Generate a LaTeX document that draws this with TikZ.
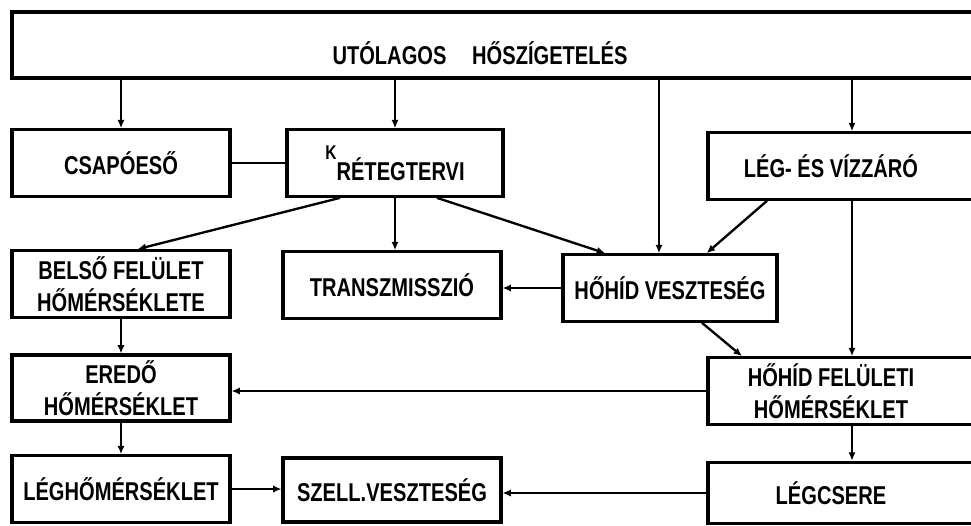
\documentclass[tikz,border=0pt]{standalone}
\usepackage{fontspec}
\setmainfont{Liberation Sans}[FakeStretch=0.78]
\usepackage{tikz}
\usetikzlibrary{arrows.meta,positioning}
\newcommand{\padr}{\hspace*{1.26cm}}

\begin{document}
\begin{tikzpicture}[x=0.03cm,y=-0.03cm,
    every node/.style={font=\fontsize{22}{27}\selectfont\bfseries,align=center},
    box/.style={draw,line width=2.6pt,minimum width=6.54cm,minimum height=2cm,inner sep=2pt},
    wide/.style={minimum width=8.64cm},
    arr/.style={-{Latex[length=0.25cm,width=0.22cm]},line width=2pt}]
        \clip (0,0) rectangle (971,525);
        \node[box,minimum width=29.52cm,minimum height=1.98cm,text height=1.14cm,text depth=0pt] (top) at (504,45) {UTÓLAGOS\quad HŐSZÍGETELÉS\hspace*{1.44cm}};
        \node[box] (csap) at (121,163) {CSAPÓESŐ};
        \node[box,minimum width=6.48cm] (kret) at (395,163) {{\fontsize{17}{17}\selectfont K}\raisebox{-0.62cm}{RÉTEGTERVI}};
        \node[box,wide] (leg) at (852,166) {LÉG- ÉS VÍZZÁRÓ\padr};
        \node[box] (belso) at (121,284) {BELSŐ FELÜLET\\HŐMÉRSÉKLETE};
        \node[box] (transz) at (392,285) {TRANSZMISSZIÓ};
        \node[box,minimum width=6.42cm] (hohidv) at (670,288) {HŐHÍD VESZTESÉG};
        \node[box,wide] (hohidf) at (852,391) {HŐHÍD FELÜLETI\padr\\HŐMÉRSÉKLET\padr};
        \node[box,minimum height=1.98cm] (eredo) at (121,388) {EREDŐ\\HŐMÉRSÉKLET};
        \node[box] (leghom) at (121,489) {LÉGHŐMÉRSÉKLET};
        \node[box,minimum height=1.92cm] (szell) at (392,490) {SZELL.VESZTESÉG};
        \node[box,wide,minimum height=1.85cm] (legcs) at (852,493) {LÉGCSERE\padr};
        \coordinate (hvin) at ([xshift=-0.33cm]hohidv.north);
        % from the top
        \draw[arr] (top.south -| csap) -- (csap);
        \draw[arr] (top.south -| kret) -- (kret);
        \draw[arr] (top.south -| hvin) -- (hvin);
        \draw[arr] (top.south -| leg) -- (leg);
        \draw[line width=2pt] (csap.east) -- (kret.west);
        % second row
        \draw[arr] ([xshift=-1.65cm]kret.south) -- ([xshift=0.5cm]belso.north);
        \draw[arr] (kret) -- (kret |- transz.north);
        \draw[arr] ([xshift=1.26cm]kret.south) -- ([xshift=-1.95cm]hohidv.north);
        \draw[arr] ([xshift=-2.55cm]leg.south) -- ([xshift=1.1cm]hohidv.north);
        \draw[arr] (hohidv.west) -- (hohidv.west -| transz.east);
        % lower rows
        \draw[arr] ([xshift=0.96cm]hohidv.south) -- ([xshift=-3.3cm]hohidf.north);
        \draw[arr] (leg) -- (hohidf);
        \draw[arr] (belso) -- (eredo);
        \draw[arr] (hohidf.west) -- (hohidf.west -| eredo.east);
        \draw[arr] (eredo) -- (leghom);
        \draw[arr] (hohidf) -- (legcs);
        \draw[arr] (legcs.west) -- (legcs.west -| szell.east);
        \draw[arr] (leghom.east) -- (leghom.east -| szell.west);
      \end{tikzpicture}
\end{document}
